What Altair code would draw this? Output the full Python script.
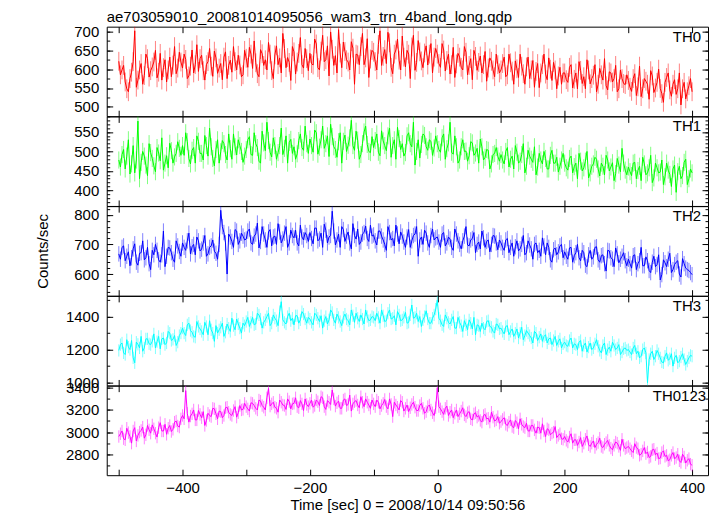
import altair as alt
import pandas as pd

# ---- data ----
# values at t = -500, -495, ..., 400 and in-between bins at t = -497.5, ..., 397.5
t_start = -500
t_step = 2.5

th0_a = [
    621, 598, 566, 540, 592, 702, 571, 615, 583, 628, 596, 619, 577, 642, 604, 566, 632, 611, 588, 645,
    603, 626, 582, 651, 612, 594, 637, 571, 620, 608, 648, 589, 615, 632, 575, 624, 660, 598, 611, 585,
    629, 658, 602, 617, 580, 641, 625, 671, 596, 638, 612, 590, 655, 631, 570, 646, 619, 684, 603, 628,
    642, 611, 667, 598, 690, 625, 582, 653, 636, 705, 604, 647, 619, 673, 560, 638, 660, 612, 681, 627,
    645, 598, 702, 634, 615, 670, 588, 651, 624, 688, 606, 640, 659, 597, 676, 622, 643, 611, 668, 632,
    640, 605, 651, 623, 587, 658, 614, 632, 598, 645, 610, 572, 634, 618, 590, 647, 603, 621, 580, 612,
    598, 632, 585, 617, 560, 601, 640, 588, 606, 575, 623, 594, 551, 612, 587, 630, 570, 598, 582, 560,
    590, 565, 612, 573, 548, 597, 580, 625, 561, 584, 540, 602, 571, 556, 593, 566, 610, 548, 575, 559,
    570, 541, 588, 553, 527, 575, 560, 596, 538, 565, 549, 512, 578, 545, 560, 533, 590, 548, 521, 556,
    540,
]
th0_b = [
    585, 610, 548, 575, 620, 552, 598, 560, 640, 579, 606, 650, 592, 571, 625, 598, 580, 660, 603, 619,
    640, 575, 608, 590, 665, 628, 596, 612, 655, 581, 630, 603, 572, 646, 610, 592, 620, 637, 580, 650,
    605, 640, 675, 588, 652, 610, 598, 640, 575, 662, 630, 695, 604, 618, 660, 587, 642, 612, 655, 596,
    615, 680, 604, 648, 620, 662, 699, 610, 590, 643, 672, 625, 598, 656, 640, 612, 695, 630, 578, 650,
    620, 666, 610, 652, 698, 605, 640, 680, 598, 632, 650, 575, 690, 618, 646, 604, 662, 640, 590, 655,
    615, 668, 595, 640, 612, 578, 642, 605, 660, 585, 628, 650, 597, 635, 612, 568, 630, 598, 640, 590,
    615, 580, 640, 595, 622, 578, 608, 560, 632, 598, 552, 615, 590, 640, 572, 600, 618, 548, 605, 590,
    572, 605, 550, 590, 620, 562, 548, 598, 575, 612, 560, 585, 628, 545, 590, 575, 540, 598, 562, 585,
    552, 575, 530, 608, 548, 568, 520, 582, 550, 600, 535, 565, 590, 528, 572, 548, 505, 565, 540, 575,
]
th1_a = [
    478, 492, 455, 530, 468, 445, 578, 472, 488, 438, 497, 463, 510, 476, 452, 489, 521, 470, 495, 508,
    515, 548, 482, 503, 470, 526, 495, 541, 488, 512, 463, 530, 499, 520, 478, 507, 545, 491, 515, 472,
    505, 538, 490, 520, 475, 552, 502, 528, 486, 515, 497, 560, 508, 470, 531, 512, 494, 545, 503, 520,
    532, 498, 548, 511, 565, 520, 487, 538, 505, 525, 470, 542, 516, 580, 503, 529, 492, 550, 518, 497,
    510, 545, 489, 527, 502, 560, 515, 480, 533, 520, 497, 548, 512, 465, 530, 518, 541, 503, 526, 509,
    520, 498, 545, 507, 575, 493, 512, 478, 530, 501, 489, 522, 496, 470, 512, 485, 503, 468, 495, 488,
    492, 468, 510, 480, 455, 498, 475, 520, 462, 488, 472, 440, 495, 468, 482, 455, 503, 470, 447, 478,
    470, 452, 488, 461, 430, 475, 458, 500, 445, 468, 480, 437, 462, 490, 450, 471, 443, 465, 508, 452,
    460, 438, 472, 451, 425, 468, 445, 490, 432, 458, 447, 415, 470, 441, 455, 395, 462, 438, 480, 430,
    445,
]
th1_b = [
    460, 505, 488, 442, 515, 478, 430, 500, 465, 520, 482, 448, 496, 535, 470, 458, 502, 486, 525, 490,
    490, 525, 468, 510, 540, 495, 478, 515, 560, 482, 505, 470, 528, 492, 545, 480, 512, 530, 500, 488,
    530, 492, 548, 510, 470, 522, 575, 498, 535, 480, 515, 492, 540, 523, 495, 480, 528, 510, 565, 495,
    515, 555, 493, 530, 508, 540, 570, 512, 485, 548, 526, 500, 535, 515, 552, 480, 520, 565, 500, 538,
    528, 498, 553, 515, 540, 485, 530, 562, 505, 488, 540, 520, 575, 500, 483, 545, 512, 530, 490, 540,
    505, 535, 480, 522, 498, 540, 470, 512, 500, 475, 525, 490, 508, 532, 478, 505, 455, 492, 510, 475,
    478, 500, 460, 488, 515, 470, 492, 445, 503, 480, 512, 460, 478, 500, 455, 490, 470, 485, 462, 495,
    458, 482, 445, 470, 495, 450, 475, 432, 462, 485, 455, 470, 440, 478, 460, 425, 482, 448, 470, 440,
    448, 470, 430, 462, 485, 440, 458, 420, 470, 445, 478, 435, 452, 410, 465, 448, 430, 472, 415, 455,
]
th2_a = [
    668, 690, 645, 675, 655, 702, 630, 672, 648, 690, 615, 665, 680, 640, 745, 660, 688, 650, 712, 676,
    705, 680, 738, 692, 665, 712, 684, 730, 668, 695, 677, 650, 815, 740, 600, 725, 690, 745, 712, 728,
    718, 752, 700, 735, 688, 760, 715, 742, 695, 728, 770, 705, 738, 690, 748, 722, 705, 765, 715, 730,
    740, 702, 755, 718, 690, 748, 725, 812, 698, 735, 760, 710, 742, 685, 730, 752, 708, 740, 720, 765,
    732, 698, 745, 715, 680, 740, 720, 765, 702, 728, 690, 750, 712, 735, 660, 725, 748, 705, 730, 715,
    725, 690, 740, 705, 718, 680, 735, 700, 712, 760, 695, 720, 672, 708, 745, 690, 715, 700, 728, 682,
    705, 680, 720, 690, 660, 712, 685, 730, 672, 698, 650, 705, 680, 722, 665, 690, 640, 688, 675, 700,
    675, 650, 690, 662, 700, 645, 672, 625, 680, 658, 692, 640, 665, 610, 678, 650, 688, 638, 660, 645,
    650, 620, 665, 635, 690, 628, 645, 605, 660, 632, 580, 648, 625, 670, 615, 640, 600, 652, 620, 612,
    598,
]
th2_b = [
    650, 695, 660, 628, 685, 640, 670, 712, 655, 635, 680, 700, 648, 665, 625, 690, 672, 640, 695, 660,
    690, 712, 668, 700, 725, 678, 705, 660, 690, 715, 670, 700, 760, 705, 735, 710, 750, 700, 738, 715,
    745, 705, 728, 772, 710, 735, 690, 750, 725, 700, 742, 718, 760, 705, 730, 748, 695, 725, 740, 710,
    720, 755, 712, 738, 768, 705, 730, 745, 715, 690, 750, 728, 705, 770, 718, 700, 735, 762, 710, 728,
    712, 745, 728, 700, 760, 715, 695, 735, 742, 708, 725, 690, 730, 760, 715, 700, 738, 690, 752, 722,
    708, 735, 695, 725, 690, 752, 712, 685, 728, 698, 715, 740, 700, 685, 722, 710, 675, 730, 705, 715,
    690, 715, 672, 705, 692, 678, 700, 665, 712, 685, 700, 672, 660, 695, 705, 648, 682, 665, 695, 655,
    660, 688, 640, 672, 655, 680, 630, 665, 650, 690, 648, 662, 635, 680, 655, 625, 668, 650, 672, 628,
    635, 662, 615, 645, 628, 658, 612, 640, 625, 665, 598, 638, 650, 605, 632, 645, 590, 635, 615, 605,
]
th3_a = [
    1195, 1240, 1170, 1215, 1255, 1120, 1232, 1280, 1210, 1265, 1230, 1295, 1248, 1205, 1270, 1240, 1300, 1262, 1225, 1285,
    1330, 1285, 1360, 1305, 1275, 1340, 1310, 1365, 1290, 1320, 1250, 1300, 1335, 1280, 1355, 1310, 1345, 1385, 1330, 1360,
    1370, 1340, 1395, 1355, 1410, 1330, 1380, 1420, 1360, 1390, 1345, 1490, 1365, 1400, 1375, 1350, 1405, 1380, 1415, 1360,
    1385, 1350, 1410, 1370, 1330, 1400, 1380, 1425, 1360, 1395, 1345, 1415, 1375, 1440, 1365, 1390, 1410, 1355, 1400, 1380,
    1395, 1420, 1360, 1405, 1375, 1440, 1390, 1350, 1410, 1380, 1425, 1365, 1470, 1395, 1370, 1340, 1400, 1385, 1360, 1410,
    1500, 1375, 1340, 1390, 1355, 1400, 1330, 1365, 1310, 1350, 1380, 1325, 1290, 1345, 1360, 1320, 1375, 1335, 1300, 1350,
    1330, 1295, 1345, 1310, 1280, 1325, 1300, 1260, 1315, 1285, 1240, 1300, 1275, 1250, 1290, 1265, 1230, 1280, 1250, 1210,
    1245, 1220, 1270, 1235, 1200, 1255, 1225, 1185, 1240, 1210, 1260, 1195, 1225, 1170, 1215, 1245, 1200, 1230, 1185, 1210,
    1200, 1170, 1225, 1190, 1160, 1210, 1000, 1175, 1140, 1195, 1150, 1120, 1180, 1145, 1100, 1165, 1130, 1175, 1110, 1150,
    1160,
]
th3_b = [
    1230, 1180, 1260, 1200, 1150, 1245, 1210, 1190, 1265, 1235, 1250, 1210, 1280, 1265, 1230, 1310, 1255, 1285, 1245, 1300,
    1300, 1350, 1315, 1280, 1370, 1325, 1290, 1340, 1375, 1300, 1345, 1320, 1360, 1305, 1330, 1390, 1320, 1355, 1300, 1345,
    1395, 1365, 1350, 1420, 1385, 1365, 1400, 1345, 1410, 1375, 1430, 1380, 1355, 1420, 1390, 1405, 1360, 1430, 1385, 1395,
    1365, 1420, 1390, 1405, 1375, 1355, 1440, 1380, 1415, 1370, 1395, 1385, 1350, 1405, 1420, 1370, 1385, 1440, 1375, 1400,
    1375, 1395, 1440, 1370, 1420, 1385, 1405, 1430, 1375, 1395, 1360, 1410, 1390, 1420, 1400, 1380, 1435, 1360, 1390, 1445,
    1390, 1350, 1410, 1365, 1380, 1330, 1395, 1345, 1375, 1320, 1360, 1395, 1350, 1310, 1330, 1370, 1340, 1310, 1355, 1325,
    1310, 1340, 1290, 1325, 1300, 1270, 1335, 1285, 1300, 1270, 1310, 1255, 1295, 1280, 1240, 1270, 1255, 1225, 1265, 1235,
    1225, 1255, 1210, 1230, 1245, 1190, 1240, 1215, 1200, 1235, 1220, 1180, 1240, 1200, 1190, 1225, 1210, 1170, 1205, 1195,
    1185, 1210, 1175, 1150, 1200, 1180, 1140, 1190, 1160, 1175, 1125, 1160, 1135, 1175, 1150, 1120, 1155, 1140, 1130, 1165,
]
th0123_a = [
    2960, 3010, 2930, 2995, 2900, 3040, 2970, 3015, 2945, 3060, 2990, 3030, 2955, 3085, 3010, 2980, 3060, 3025, 3100, 3045,
    3150, 3375, 3090, 3165, 3110, 3195, 3130, 3060, 3170, 3140, 3210, 3120, 3185, 3150, 3225, 3160, 3195, 3135, 3240, 3205,
    3230, 3190, 3260, 3215, 3290, 3240, 3200, 3395, 3255, 3225, 3180, 3270, 3240, 3300, 3210, 3260, 3230, 3285, 3195, 3250,
    3260, 3225, 3290, 3240, 3310, 3205, 3270, 3380, 3235, 3280, 3215, 3300, 3250, 3190, 3275, 3245, 3320, 3230, 3270, 3215,
    3255, 3290, 3210, 3260, 3230, 3300, 3140, 3245, 3200, 3270, 3215, 3185, 3250, 3225, 3195, 3260, 3170, 3230, 3200, 3150,
    3400, 3210, 3160, 3235, 3180, 3130, 3200, 3165, 3220, 3140, 3185, 3110, 3175, 3150, 3090, 3160, 3125, 3180, 3100, 3140,
    3095, 3130, 3060, 3110, 3040, 3085, 3120, 3050, 3080, 3010, 3060, 2990, 3040, 3075, 2960, 3020, 2990, 3050, 2970, 2940,
    2960, 2910, 2985, 2930, 2880, 2950, 2900, 2965, 2870, 2920, 2890, 2945, 2860, 2905, 2880, 2840, 2910, 2870, 2935, 2850,
    2870, 2830, 2895, 2850, 2800, 2860, 2820, 2780, 2845, 2810, 2765, 2830, 2790, 2750, 2815, 2770, 2740, 2800, 2720, 2760,
    2700,
]
th0123_b = [
    2985, 2940, 3035, 2960, 3010, 2920, 3000, 3045, 2975, 3020, 3065, 2990, 3040, 3010, 3070, 3035, 3005, 3090, 3055, 3120,
    3120, 3170, 3145, 3200, 3110, 3160, 3185, 3105, 3150, 3215, 3165, 3190, 3130, 3220, 3180, 3150, 3230, 3175, 3200, 3260,
    3210, 3265, 3240, 3200, 3280, 3225, 3310, 3235, 3270, 3215, 3290, 3245, 3205, 3275, 3255, 3310, 3220, 3255, 3300, 3230,
    3290, 3240, 3275, 3320, 3230, 3285, 3250, 3300, 3265, 3215, 3290, 3240, 3335, 3255, 3285, 3220, 3270, 3300, 3245, 3290,
    3230, 3270, 3240, 3295, 3210, 3250, 3270, 3225, 3285, 3190, 3245, 3220, 3270, 3195, 3240, 3215, 3185, 3245, 3175, 3220,
    3230, 3185, 3215, 3150, 3200, 3170, 3140, 3190, 3155, 3175, 3120, 3165, 3135, 3105, 3150, 3120, 3090, 3135, 3110, 3080,
    3115, 3070, 3090, 3050, 3105, 3030, 3070, 3040, 3010, 3060, 3020, 3045, 2990, 3010, 3030, 2975, 3000, 2950, 2985, 2935,
    2925, 2955, 2900, 2930, 2910, 2870, 2935, 2885, 2900, 2860, 2905, 2870, 2890, 2925, 2855, 2880, 2900, 2835, 2880, 2860,
    2850, 2815, 2860, 2790, 2830, 2805, 2770, 2840, 2795, 2760, 2815, 2780, 2740, 2790, 2760, 2800, 2725, 2775, 2745, 2710,
]

names = ["TH0", "TH1", "TH2", "TH3", "TH0123"]
series_a = [th0_a, th1_a, th2_a, th3_a, th0123_a]
series_b = [th0_b, th1_b, th2_b, th3_b, th0123_b]
errors = [25, 22, 26, 37, 56]
colors = ["#ff0000", "#00ff00", "#0000ff", "#00ffff", "#ff00ff"]
y_domains = [[475, 713], [360, 590], [527, 829], [983, 1525], [2610, 3420]]
y_major = [
    [500, 550, 600, 650, 700],
    [400, 450, 500, 550],
    [600, 700, 800],
    [1000, 1200, 1400],
    [2800, 3000, 3200, 3400],
]
y_minor_step = [25, 10, 20, 100, 100]
x_domain = [-519, 425]
x_ticks = [-500, -400, -300, -200, -100, 0, 100, 200, 300, 400]

title_text = "ae703059010_20081014095056_wam3_trn_4band_long.qdp"
x_title = "Time [sec] 0 = 2008/10/14 09:50:56"
y_title = "Counts/sec"

FONT = "Liberation Sans"
W = 603
H = 89.8


def merged(a, b):
    out = []
    for k, v in enumerate(a):
        out.append(v)
        if k < len(b):
            out.append(b[k])
    return out


def panel(i):
    vals = merged(series_a[i], series_b[i])
    times = [t_start + t_step * k for k in range(len(vals))]
    df = pd.DataFrame({"t": times, "v": vals})
    df["lo"] = df["v"] - errors[i]
    df["hi"] = df["v"] + errors[i]
    lo_d, hi_d = y_domains[i]
    step = y_minor_step[i]
    first = (lo_d // step + 1) * step
    minor_vals = list(range(int(first), int(hi_d) + 1, step))

    xs = alt.Scale(domain=x_domain, nice=False, zero=False)
    ys = alt.Scale(domain=y_domains[i], nice=False, zero=False)
    bottom = i == len(names) - 1

    xb_kw = dict(orient="bottom", values=x_ticks, tickSize=6, offset=-6, domain=False,
                 grid=False, tickColor="black", labels=bottom)
    if bottom:
        xb_kw.update(labelExpr="datum.value % 200 == 0 ? datum.label : ''",
                     labelPadding=5, labelFontSize=15, labelFont=FONT, labelColor="black",
                     title=x_title, titleFontSize=15, titleFont=FONT, titleFontWeight="normal",
                     titleColor="black", titlePadding=2)
    else:
        xb_kw.update(title=None)
    x_bottom = alt.Axis(**xb_kw)
    x_top = alt.Axis(orient="top", values=x_ticks, tickSize=6, offset=-6, domain=False,
                     grid=False, labels=False, tickColor="black", title=None)

    yl_kw = dict(orient="left", values=y_major[i], tickSize=6, offset=-6, domain=False,
                 grid=False, tickColor="black", labelPadding=8, labelFontSize=15,
                 labelFont=FONT, labelColor="black", format="d")
    if i == 2:
        yl_kw.update(title=y_title, titleFontSize=15, titleFont=FONT,
                     titleFontWeight="normal", titleColor="black", titlePadding=23)
    else:
        yl_kw.update(title=None)
    y_left = alt.Axis(**yl_kw)
    y_right = alt.Axis(orient="right", values=y_major[i], tickSize=6, offset=-6,
                       domain=False, grid=False, labels=False, tickColor="black", title=None)
    y_left_minor = alt.Axis(orient="left", values=minor_vals, tickSize=3, offset=-3,
                            domain=False, grid=False, labels=False, tickColor="black", title=None)
    y_right_minor = alt.Axis(orient="right", values=minor_vals, tickSize=3, offset=-3,
                             domain=False, grid=False, labels=False, tickColor="black", title=None)

    base = alt.Chart(df)
    err = base.mark_rule(color=colors[i], opacity=0.5, strokeWidth=1, clip=True).encode(
        x=alt.X("t:Q", scale=xs, axis=x_top),
        y=alt.Y("lo:Q", scale=ys, axis=y_right),
        y2="hi:Q",
    )
    line = base.mark_line(color=colors[i], strokeWidth=1, clip=True).encode(
        x=alt.X("t:Q", scale=xs, axis=x_bottom),
        y=alt.Y("v:Q", scale=ys, axis=y_left),
    )
    minor1 = base.mark_line(opacity=0, clip=True).encode(
        x=alt.X("t:Q", scale=xs, axis=None),
        y=alt.Y("v:Q", scale=ys, axis=y_left_minor),
    )
    minor2 = base.mark_line(opacity=0, clip=True).encode(
        x=alt.X("t:Q", scale=xs, axis=None),
        y=alt.Y("v:Q", scale=ys, axis=y_right_minor),
    )
    label = alt.Chart(pd.DataFrame({"name": [names[i]]})).mark_text(
        align="right", baseline="top", fontSize=15, font=FONT, color="black"
    ).encode(
        x=alt.value(W - (2 if names[i] == "TH0123" else 7)),
        y=alt.value(3),
        text="name:N",
    )
    layer = alt.layer(err, line, minor1, minor2, label).resolve_axis(
        x="independent", y="independent"
    ).properties(width=W, height=H)
    if i == 0:
        layer = layer.properties(
            title=alt.TitleParams(title_text, anchor="start", frame="group", fontSize=15,
                                  font=FONT, fontWeight="normal", color="black", offset=0)
        )
    return layer


chart = alt.vconcat(*[panel(i) for i in range(len(names))], spacing=0, bounds="flush").resolve_scale(
    y="independent"
).properties(
    padding={"left": 27, "top": 0, "right": 5, "bottom": 0},
    background="white",
).configure_view(stroke="black", strokeWidth=1)

chart.save("out.html", embed_options={"renderer": "svg", "actions": False})
